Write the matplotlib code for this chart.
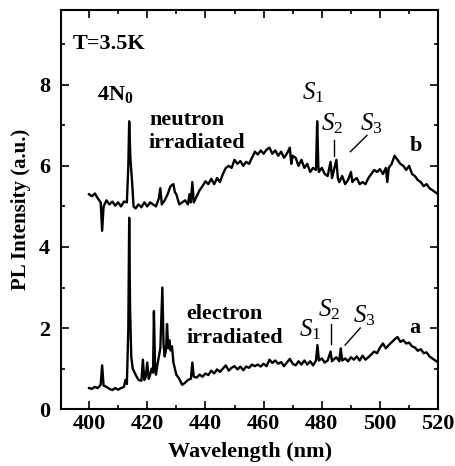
import matplotlib
matplotlib.use('Agg')
import matplotlib.pyplot as plt

# electron irradiated spectrum (curve a): (wavelength nm, PL intensity)
spectrum_a = [
    (400, 0.52), (401, 0.50), (402, 0.55), (403, 0.52), (404, 0.60), (404.5, 1.08),
    (405, 0.58), (406, 0.55), (407, 0.50), (408, 0.47), (409, 0.52), (410, 0.48),
    (411, 0.52), (412, 0.55), (412.5, 0.72), (413, 0.62), (413.5, 2.0), (413.8, 4.72),
    (414.1, 2.5), (414.5, 1.3), (415, 1.0), (416, 0.85), (417, 0.72), (418, 0.70),
    (418.5, 1.22), (419, 0.72), (419.5, 0.80), (420, 1.15), (420.5, 0.75), (421, 0.85),
    (421.5, 1.0), (422, 0.9), (422.3, 2.42), (422.7, 1.0), (423, 0.85), (423.5, 1.1),
    (424, 1.3), (424.5, 1.5), (425.2, 3.0), (425.6, 1.6), (426, 1.3), (426.5, 1.5),
    (426.8, 2.1), (427.2, 1.5), (427.6, 1.7), (428, 1.45), (428.5, 1.55), (429, 1.15),
    (429.5, 1.0), (430, 0.85), (431, 0.75), (432, 0.60), (433, 0.65), (434, 0.72),
    (435, 0.75), (435.5, 1.15), (436, 0.80), (437, 0.78), (438, 0.85), (439, 0.80),
    (440, 0.88), (441, 0.84), (442, 0.95), (443, 0.88), (444, 0.98), (445, 0.92),
    (446, 1.0), (447, 1.08), (448, 0.95), (449, 1.02), (450, 1.06), (451, 0.98),
    (452, 1.05), (453, 0.96), (454, 1.05), (455, 1.02), (456, 1.1), (457, 1.06),
    (458, 1.1), (459, 1.05), (460, 1.12), (461, 1.06), (462, 1.22), (463, 1.14),
    (464, 1.2), (465, 1.12), (466, 1.16), (467, 1.06), (468, 1.15), (469, 1.24),
    (470, 1.12), (471, 1.08), (472, 1.18), (473, 1.10), (474, 1.2), (475, 1.1),
    (476, 1.18), (477, 1.08), (478, 1.2), (478.5, 1.58), (479, 1.2), (480, 1.25),
    (481, 1.15), (482, 1.2), (483, 1.42), (483.5, 1.18), (484, 1.22), (485, 1.28),
    (486, 1.18), (486.5, 1.5), (487, 1.2), (488, 1.25), (489, 1.18), (490, 1.28),
    (491, 1.22), (492, 1.3), (493, 1.2), (494, 1.32), (495, 1.22), (496, 1.28),
    (497, 1.35), (498, 1.42), (499, 1.38), (500, 1.52), (501, 1.62), (502, 1.5),
    (503, 1.58), (504, 1.65), (505, 1.72), (506, 1.78), (507, 1.66), (508, 1.7),
    (509, 1.62), (510, 1.64), (511, 1.55), (512, 1.52), (513, 1.44), (514, 1.48),
    (515, 1.38), (516, 1.4), (517, 1.3), (518, 1.25), (519, 1.2), (520, 1.15),
]

# neutron irradiated spectrum (curve b)
spectrum_b = [
    (400, 5.3), (401, 5.25), (402, 5.32), (403, 5.2), (404, 5.1), (404.5, 4.4),
    (405, 5.0), (406, 5.15), (407, 5.05), (408, 5.12), (409, 5.02), (410, 5.1),
    (411, 5.0), (412, 5.12), (413, 5.1), (413.5, 6.0), (413.8, 7.1), (414.2, 6.2),
    (414.8, 5.6), (415.3, 5.0), (416, 4.95), (417, 5.05), (418, 4.98), (419, 5.1),
    (420, 5.0), (421, 5.1), (422, 5.05), (423, 5.0), (424, 5.2), (424.5, 5.45),
    (425, 5.05), (426, 5.15), (427, 5.3), (428, 5.5), (429, 5.55), (429.5, 5.35),
    (430, 5.3), (431, 5.05), (432, 5.1), (433, 5.15), (434, 5.05), (434.5, 5.3),
    (435, 5.1), (435.5, 5.6), (436, 5.1), (437, 5.25), (438, 5.4), (439, 5.5),
    (440, 5.62), (441, 5.55), (442, 5.68), (443, 5.55), (444, 5.7), (445, 5.6),
    (446, 5.8), (447, 5.95), (448, 6.0), (449, 5.95), (450, 6.15), (451, 6.05),
    (452, 6.12), (453, 6.0), (454, 6.1), (455, 6.05), (456, 6.2), (457, 6.35),
    (458, 6.28), (459, 6.38), (460, 6.3), (461, 6.4), (462, 6.45), (463, 6.3),
    (464, 6.38), (465, 6.25), (466, 6.35), (467, 6.2), (468, 6.3), (469, 6.45),
    (469.5, 6.05), (470, 6.25), (471, 6.2), (472, 6.0), (473, 6.15), (474, 5.95),
    (475, 6.05), (476, 5.85), (477, 5.95), (478, 5.9), (478.4, 7.1), (478.8, 6.0),
    (479, 5.85), (480, 5.95), (481, 5.8), (482, 5.75), (483, 6.1), (483.5, 5.7),
    (484, 5.85), (485, 6.15), (485.5, 5.7), (486, 5.6), (487, 5.75), (488, 5.55),
    (489, 5.65), (490, 5.85), (490.5, 5.6), (491, 5.65), (492, 5.7), (493, 5.55),
    (494, 5.6), (495, 5.55), (496, 5.7), (497, 5.8), (498, 5.9), (499, 5.85),
    (500, 5.92), (501, 5.8), (502, 5.95), (502.5, 5.6), (503, 5.95), (504, 6.05),
    (505, 6.25), (506, 6.15), (507, 6.05), (508, 6.0), (509, 5.9), (510, 6.0),
    (511, 5.8), (512, 5.75), (513, 5.65), (514, 5.6), (515, 5.5), (516, 5.55),
    (517, 5.45), (518, 5.4), (519, 5.35), (520, 5.3),
]

wl_a, pl_a = zip(*spectrum_a)
wl_b, pl_b = zip(*spectrum_b)

plt.rcParams['font.family'] = 'Liberation Serif'
plt.rcParams['mathtext.fontset'] = 'custom'
plt.rcParams['mathtext.rm'] = 'Liberation Serif'
plt.rcParams['mathtext.it'] = 'Liberation Serif:italic'
plt.rcParams['mathtext.bf'] = 'Liberation Serif:bold'

fig = plt.figure(figsize=(4.56, 4.66), dpi=100)
ax = fig.add_axes([0.134, 0.122, 0.827, 0.857])

ax.plot(wl_a, pl_a, color='black', lw=1.7)
ax.plot(wl_b, pl_b, color='black', lw=1.7)

ax.set_xlim(390.4, 520)
ax.set_ylim(0, 9.85)
ax.set_xticks(range(400, 521, 20))
ax.set_xticks(range(410, 520, 20), minor=True)
ax.set_yticks([0, 2, 4, 6, 8])
ax.set_yticks([1, 3, 5, 7, 9], minor=True)
ax.tick_params(which='both', direction='in', top=True, right=True, width=1.2)
ax.tick_params(which='major', length=6, labelsize=16)
ax.tick_params(which='minor', length=3)
ax.tick_params(axis='y', pad=8)
for lab in ax.get_xticklabels() + ax.get_yticklabels():
    lab.set_fontweight('bold')
for sp in ax.spines.values():
    sp.set_linewidth(1.5)

ax.set_xlabel('Wavelength (nm)', fontsize=16, fontweight='bold', labelpad=6)
ax.set_ylabel('PL Intensity (a.u.)', fontsize=15, fontweight='bold', labelpad=6)

bold = dict(fontsize=16, fontweight='bold')
ax.text(394.5, 9.0, 'T=3.5K', va='center', **bold)
ax.text(409, 7.75, r'4N$_\mathbf{0}$', ha='center', va='center', **bold)
ax.text(420.6, 6.85, 'neutron\nirradiated', va='center', linespacing=1.25, **bold)
ax.text(433.4, 2.05, 'electron\nirradiated', va='center', linespacing=1.25, **bold)
ax.text(512.4, 6.5, 'b', ha='center', va='center', **bold)
ax.text(512.0, 2.0, 'a', ha='center', va='center', **bold)

sfont = dict(fontsize=18, ha='center', va='center')
ax.text(477, 7.8, r'$S_1$', **sfont)
ax.text(483.5, 7.05, r'$S_2$', **sfont)
ax.text(497, 7.05, r'$S_3$', **sfont)
ax.plot([484.2, 484.2], [6.25, 6.65], color='black', lw=1)
ax.plot([489.8, 495.5], [6.35, 6.75], color='black', lw=1)

ax.text(476, 1.95, r'$S_1$', **sfont)
ax.text(482.5, 2.45, r'$S_2$', **sfont)
ax.text(494.5, 2.3, r'$S_3$', **sfont)
ax.plot([483.2, 483.2], [1.6, 2.1], color='black', lw=1)
ax.plot([488, 493.2], [1.58, 2.0], color='black', lw=1)

fig.savefig('out.png', dpi=100)
